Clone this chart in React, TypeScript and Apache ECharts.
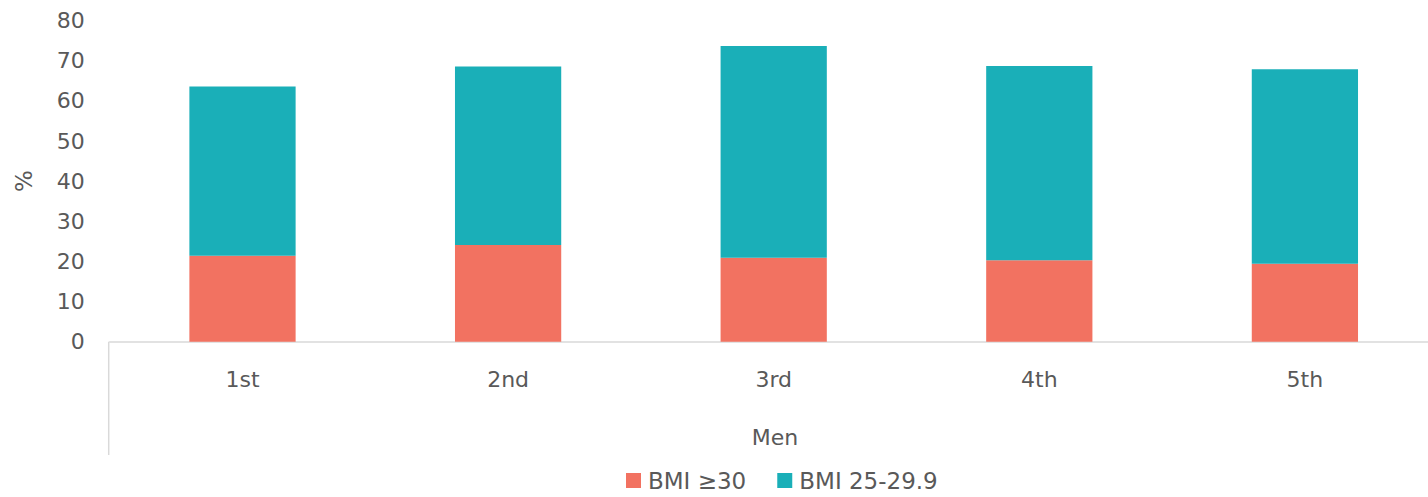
import React, { useEffect, useRef } from "react";
import * as echarts from "echarts";

const categories = ["1st", "2nd", "3rd", "4th", "5th"];
const groupLabel = "Men";
const obese = [21.4, 24.1, 20.9, 20.3, 19.4]; // BMI ≥30
const overweight = [42.2, 44.5, 52.8, 48.4, 48.5]; // BMI 25-29.9
const seriesNames = ["BMI ≥30", "BMI 25-29.9"];

const TEXT = "#595959";
const FONT = "'DejaVu Sans', 'Noto Sans', sans-serif";

export default function App() {
  const ref = useRef<HTMLDivElement>(null);
  useEffect(() => {
    document.body.style.margin = "0";
    document.body.style.overflow = "hidden";
    const chart = echarts.init(ref.current!, null, { renderer: "svg" });
    const gridLeft = 109.7;
    const gridTop = 20.7;
    const gridHeight = 321;
    const gridWidth = 1328;
    chart.setOption({
      animation: false,
      textStyle: { fontFamily: FONT },
      grid: { left: gridLeft, top: gridTop, width: gridWidth, height: gridHeight, containLabel: false },
      legend: {
        data: seriesNames,
        left: 626,
        top: 469,
        padding: 0,
        itemWidth: 15,
        itemHeight: 15,
        itemGap: 31,
        icon: "rect",
        textStyle: { color: TEXT, fontSize: 23, fontFamily: FONT, padding: [0, 0, 0, 2] },
      },
      xAxis: {
        type: "category",
        data: categories,
        axisLine: { show: true, lineStyle: { color: "#d9d9d9", width: 1.5 } },
        axisTick: { show: false },
        axisLabel: { color: TEXT, fontSize: 22, margin: 27, fontFamily: FONT },
      },
      yAxis: {
        type: "value",
        min: 0,
        max: 80,
        interval: 10,
        name: "%",
        nameLocation: "middle",
        nameRotate: 90,
        nameGap: 74,
        nameTextStyle: { color: TEXT, fontSize: 23, fontFamily: FONT },
        axisLine: { show: false },
        axisTick: { show: false },
        splitLine: { show: false },
        axisLabel: { color: TEXT, fontSize: 22, margin: 25, fontFamily: FONT },
      },
      graphic: [
        {
          type: "line",
          shape: { x1: 108.7, y1: gridTop + gridHeight, x2: 108.7, y2: 455 },
          style: { stroke: "#d9d9d9", lineWidth: 1.5 },
        },
        {
          type: "text",
          x: 775,
          y: 437,
          style: {
            text: groupLabel,
            fill: TEXT,
            font: `22px ${FONT}`,
            textAlign: "center",
            textVerticalAlign: "middle",
          },
        },
      ],
      series: [
        {
          name: seriesNames[0],
          type: "bar",
          stack: "bmi",
          barWidth: "40%",
          data: obese,
          itemStyle: { color: "#F27261" },
        },
        {
          name: seriesNames[1],
          type: "bar",
          stack: "bmi",
          barWidth: "40%",
          data: overweight,
          itemStyle: { color: "#1AAFB8" },
        },
      ],
    });
    return () => chart.dispose();
  }, []);
  return (
    <div style={{ width: 1428, height: 497, overflow: "hidden", position: "relative" }}>
      <div ref={ref} style={{ width: 1440, height: 497 }} />
    </div>
  );
}
